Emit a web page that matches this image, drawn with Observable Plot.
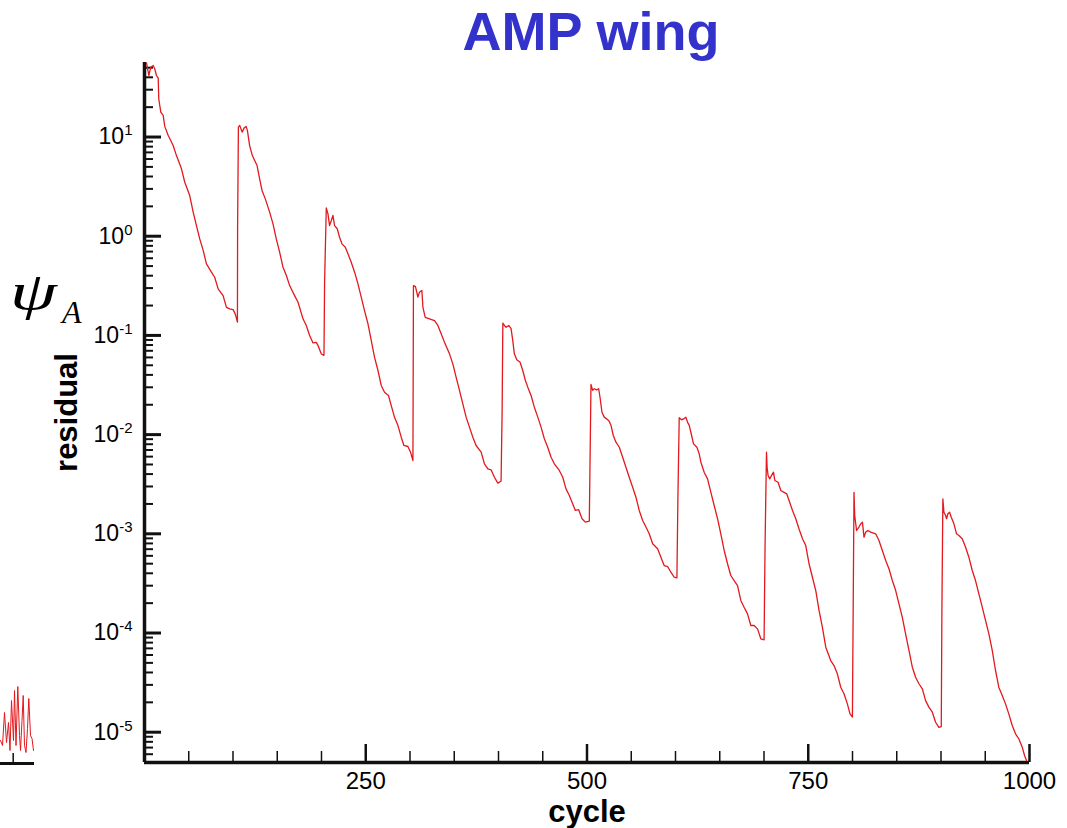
<!DOCTYPE html>
<html><head><meta charset="utf-8">
<script src="https://cdn.jsdelivr.net/npm/d3@7"></script>
<script src="https://cdn.jsdelivr.net/npm/@observablehq/plot@0.6"></script>
<style>
html,body{margin:0;padding:0;background:#fff;width:1067px;height:828px;overflow:hidden;}
#wrap{position:relative;width:1067px;height:828px;}
#chart{position:absolute;left:0;top:0;}
#mini{position:absolute;left:0;top:681px;}
#psi{position:absolute;left:10px;top:266px;font:italic 52px "Liberation Serif","DejaVu Serif",serif;color:#000;line-height:1;white-space:nowrap;}
#psi .g{display:inline-block;transform:scaleX(1.45);transform-origin:left center;}
#sub{position:absolute;left:62px;top:296px;font:italic 32px "Liberation Serif","DejaVu Serif",serif;color:#000;line-height:1;}
</style>
</head><body>
<div id="wrap"><div id="chart"></div><div id="mini"></div><div id="psi"><span class="g">ψ</span></div><div id="sub">A</div></div>
<script>
// ---- main series: residual vs cycle ----
const cycle = [2.3,4.9,7.1,9.8,11.6,13.5,15.5,16.1,18.4,21.1,22.9,26.7,32.4,36.1,41.8,45.5,51.1,55,58.7,62.4,66.3,70,75.6,79.3,83.2,88.8,92.6,96.3,100.1,102.7,105,
105.2,106.1,107.6,110.3,112.5,114.8,116.3,118.8,121.9,124.5,127.2,130.1,132.8,136.5,141.4,145.2,148.9,152.7,156.5,160.3,164,169.6,173.5,179.1,182.8,186.6,190.4,194.1,196.1,199.8,202.8,
203.5,205.4,207.3,209.1,211.1,212.9,214.8,217.8,220.4,223.1,226.9,229.9,233.6,237.4,241.2,244.9,248.6,252.5,256.2,259.9,263.8,267.5,271.2,275.7,278.8,282.5,286.3,290.1,293.1,297.6,300.6,303.3,
303.9,306.2,308.9,310.7,313.4,314.6,317.2,322,327.7,331.5,335.2,339.7,344.6,348.4,352.1,355.9,359.7,363.4,367.2,371,374.7,380.4,384.1,388,391.6,395.4,399.2,402.9,
404.1,404.9,406.7,408.6,411.6,414.2,416.1,417.9,420.7,424.4,427.4,430.4,433.1,436.8,440.5,444.4,448.1,451.8,455.6,459.4,463.1,468.7,472.6,476.3,480,483.9,486.8,490.6,494.4,498.1,502.6,
504.5,506.4,508.2,510.9,513.2,514.7,516.9,519.5,524.5,527.1,529.7,532.7,536.5,540.3,544,547.7,551.6,555.3,559,562.9,566.6,570.3,574.2,579.8,583.5,587.2,591.1,594.8,598.5,601.6,
602.7,604.2,606.9,609.1,611.7,613.7,615.5,618.2,620.4,624.2,626.8,628.7,632.4,636.2,640,643.7,647.5,651.2,655,658.8,662.5,666.3,670.1,673.8,677.5,681.4,685.1,688.8,692.7,696.4,700.1,
701.2,702.8,703.5,704.6,706.5,708.5,710.7,712.2,715.9,719,722.7,725.7,728.3,732.2,735.9,739.6,743.5,747.2,750.9,754.7,758.5,762.2,766,769.8,775.4,779.1,782.9,786.7,790.4,794.2,797.2,799.9,
801.7,802.5,804.6,807.3,809.3,811.2,813,814.9,817.5,820.5,826.2,829.9,833.7,837.5,841.2,845,848.8,852.5,856.3,860,863.8,867.6,871.3,875.1,878.9,882.6,886.3,890.2,893.9,897.6,900.3,
901,902.1,903.3,905.2,906.3,907.8,909.7,911.6,913.1,914.6,917.6,920.2,924,927.8,931.5,935.3,939,942.8,946.6,950.3,954.1,957.9,961.6,965.3,969.2,972.9,976.6,980.5,984.2,987.9,991.8,994.4,996.6];
const residual = [56,41.7,50.6,52.6,48.7,41.7,39.2,24.3,17.8,16.5,12.8,10.4,8.2,6.5,4.78,3.5,2.57,1.75,1.28,0.94,0.72,0.527,0.434,0.386,0.295,0.252,0.192,0.185,0.182,0.163,0.136,
1.23,12.6,13.1,11.2,12.3,12.8,11.6,8.2,6.5,5.8,5.16,3.79,2.89,2.38,1.75,1.33,0.94,0.69,0.487,0.402,0.318,0.252,0.216,0.147,0.126,0.0998,0.084,0.085,0.079,0.065,0.063,
0.344,1.93,1.68,1.28,1.44,1.62,1.28,1.19,0.977,0.838,0.774,0.665,0.547,0.434,0.331,0.243,0.178,0.131,0.089,0.0603,0.0443,0.0313,0.0267,0.0248,0.0196,0.015,0.0124,0.00942,0.00777,0.00759,0.00665,0.00548,
0.318,0.311,0.243,0.272,0.284,0.192,0.152,0.147,0.141,0.126,0.104,0.0822,0.0652,0.0517,0.0379,0.0279,0.0204,0.015,0.0119,0.00942,0.00777,0.00665,0.00508,0.00452,0.00442,0.00372,0.00324,0.00339,
0.0175,0.133,0.126,0.121,0.126,0.117,0.089,0.0652,0.0568,0.0537,0.0443,0.0351,0.0301,0.0248,0.0189,0.015,0.0119,0.00908,0.00746,0.00592,0.00508,0.00435,0.00372,0.00284,0.00243,0.002,0.00172,0.00175,0.00142,0.00131,0.00134,
0.032,0.0279,0.029,0.0283,0.029,0.0238,0.0168,0.015,0.0139,0.0124,0.0098,0.00838,0.00746,0.00592,0.00469,0.00372,0.00295,0.00234,0.00172,0.00136,0.00117,0.001,0.000793,0.000706,0.000581,0.000479,0.000468,0.00041,0.000365,0.00036,
0.00225,0.0148,0.0141,0.0144,0.015,0.0133,0.0124,0.0098,0.00807,0.00746,0.0064,0.00527,0.00418,0.00358,0.00262,0.00193,0.00142,0.001,0.000679,0.000499,0.00038,0.000338,0.000301,0.000213,0.000182,0.000156,0.000119,0.000119,0.00011,0.0000874,0.0000853,
0.000762,0.00665,0.0047,0.00387,0.00358,0.00387,0.00418,0.00345,0.00331,0.00273,0.00262,0.00253,0.00217,0.00172,0.00142,0.00112,0.000891,0.000762,0.000499,0.000365,0.000268,0.000169,0.000114,0.0000719,0.0000528,0.000047,0.0000388,0.0000284,0.0000244,0.0000193,0.0000153,0.0000142,
0.00262,0.00153,0.00108,0.00117,0.00126,0.00131,0.000925,0.00104,0.00108,0.00104,0.001,0.000855,0.000679,0.000538,0.000444,0.000338,0.000268,0.000197,0.000144,0.0000982,0.0000667,0.0000452,0.0000358,0.0000308,0.0000274,0.0000208,0.0000179,0.0000159,0.0000126,0.0000112,0.0000114,
0.000156,0.00225,0.00165,0.00153,0.00142,0.00159,0.00165,0.00147,0.00136,0.00126,0.001,0.000962,0.000891,0.000733,0.000581,0.000427,0.000338,0.000248,0.000182,0.000134,0.0000982,0.0000667,0.0000419,0.0000284,0.0000234,0.0000193,0.0000153,0.0000117,0.00000963,0.00000859,0.00000707,0.00000582,0.00000519];

// ---- axes ----
const yDomain = [4.95e-6, 56.4];
const yMajorExp = [-5, -4, -3, -2, -1, 0, 1];
const xMajor = [250, 500, 750, 1000];
const xMinorStep = 50;

// ---- fragment of a neighbouring chart at the bottom-left edge ----
const miniX = [0,2,4,6,8,9.5,11,13,14,15.5,17.3,19,20,21.5,22.7,24,25.5,27,28.3,30,31.5,33];
const miniY = [23,18,51,21,41,13,63,23,73,18,77,28,13,43,68,18,11,35,65,28,25,13];

const RED = "#e2191e";
const INK = "#111111";
const W = 1067, H = 828, ML = 144, MR = 38, MT = 62, MB = 66;
const frameW = W - ML - MR, frameH = H - MT - MB;
const pxToCycles = px => px * 1000 / frameW;   // tick length in x-scale units
const yMajor = yMajorExp.map(e => Math.pow(10, e));
const yMinor = [];
for (let e = -6; e <= 1; e++) for (let m = 2; m <= 9; m++) {
  const v = m * Math.pow(10, e);
  if (v >= yDomain[0] && v <= yDomain[1]) yMinor.push(v);
}
const xMinor = d3.range(xMinorStep, 1000, xMinorStep).filter(v => !xMajor.includes(v));
const data = cycle.map((c, i) => ({cycle: c, residual: residual[i]}));

const plot = Plot.plot({
  width: W, height: H,
  marginLeft: ML, marginRight: MR, marginTop: MT, marginBottom: MB,
  style: {fontFamily: '"Liberation Sans", Arial, sans-serif', fontSize: "23px", color: "#000", background: "transparent", overflow: "visible"},
  x: {domain: [0, 1000]},
  y: {type: "log", domain: yDomain},
  marks: [
    // inward y ticks
    Plot.ruleY(yMinor, {y: d => d, x1: 0, x2: pxToCycles(9), strokeWidth: 2, stroke: INK}),
    Plot.ruleY(yMajor, {y: d => d, x1: 0, x2: pxToCycles(17), strokeWidth: 3, stroke: INK}),
    // inward x ticks
    Plot.tickX(xMinor, {x: d => d, insetTop: frameH - 11, strokeWidth: 1.5, stroke: INK}),
    Plot.tickX(xMajor, {x: d => d, insetTop: frameH - 18, strokeWidth: 2.5, stroke: INK}),
    // tick labels
    Plot.axisY(yMajor, {tickSize: 0, tickPadding: 12, tickFormat: d => String(Math.round(Math.log10(d))), label: null}),
    Plot.axisX(xMajor, {tickSize: 0, tickPadding: 9, fontSize: 24, tickFormat: d => String(d), label: null}),
    // axis lines
    Plot.ruleX([0], {strokeWidth: 3.5, stroke: INK}),
    Plot.ruleY([yDomain[0]], {strokeWidth: 3.5, stroke: INK}),
    Plot.line(data, {x: "cycle", y: "residual", stroke: RED, strokeWidth: 1.3}),
    Plot.text(["AMP wing"], {frameAnchor: "top", textAnchor: "middle", lineAnchor: "middle", dx: 4, dy: -30, fontSize: 54, fontWeight: "bold", fill: "#3333cc"}),
    Plot.text(["residual"], {frameAnchor: "left", textAnchor: "middle", lineAnchor: "middle", dx: -77, rotate: -90, fontSize: 31, fontWeight: "bold"}),
    Plot.text(["cycle"], {frameAnchor: "bottom", textAnchor: "middle", lineAnchor: "middle", dy: 50, fontSize: 31, fontWeight: "bold"})
  ]
});

// superscript exponents on the y tick labels
const NS = "http://www.w3.org/2000/svg";
plot.querySelectorAll('g[aria-label="y-axis tick label"] text').forEach(t => {
  const e = t.textContent;
  if (!e) return;
  t.textContent = "";
  const base = document.createElementNS(NS, "tspan");
  base.textContent = "10";
  const sup = document.createElementNS(NS, "tspan");
  sup.textContent = e;
  sup.setAttribute("font-size", "15");
  sup.setAttribute("dy", "-9");
  t.append(base, sup);
});
document.getElementById("chart").append(plot);

const miniData = miniX.map((x, i) => ({x, y: miniY[i]}));
const mini = Plot.plot({
  width: 34, height: 84, marginLeft: 0, marginRight: 0, marginTop: 0, marginBottom: 2,
  x: {domain: [0, 34], axis: null},
  y: {domain: [0, 82], axis: null},
  style: {background: "transparent", overflow: "visible"},
  marks: [
    Plot.line(miniData, {x: "x", y: "y", stroke: RED, strokeWidth: 1}),
    Plot.ruleX([12.7], {y1: 0, y2: 10, strokeWidth: 1.5, stroke: INK}),
    Plot.ruleY([0], {strokeWidth: 3, stroke: INK})
  ]
});
document.getElementById("mini").append(mini);
</script>
</body></html>
